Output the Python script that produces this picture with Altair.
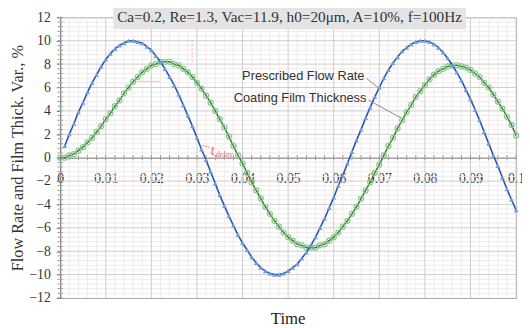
import altair as alt
import pandas as pd

SERIF = "Liberation Serif"
SANS = "Liberation Sans"

# ---- data ----
t_flow = [k / 1000 for k in range(1, 101)]
flow_rate = [1.0, 2.0, 2.9, 3.9, 4.7, 5.6, 6.4, 7.1, 7.8, 8.4,
             8.9, 9.3, 9.6, 9.8, 10.0, 10.0, 9.9, 9.8, 9.5, 9.2,
             8.7, 8.2, 7.6, 6.9, 6.2, 5.4, 4.5, 3.6, 2.7, 1.7,
             0.7, -0.2, -1.2, -2.2, -3.2, -4.1, -5.0, -5.8, -6.6, -7.3,
             -7.9, -8.5, -9.0, -9.4, -9.7, -9.9, -10.0, -10.0, -9.9, -9.7,
             -9.4, -9.1, -8.6, -8.1, -7.5, -6.8, -6.0, -5.2, -4.3, -3.4,
             -2.4, -1.5, -0.5, 0.5, 1.5, 2.4, 3.4, 4.3, 5.2, 6.0,
             6.8, 7.5, 8.1, 8.6, 9.1, 9.4, 9.7, 9.9, 10.0, 10.0,
             9.9, 9.7, 9.4, 9.0, 8.5, 7.9, 7.3, 6.6, 5.8, 5.0,
             4.1, 3.2, 2.2, 1.2, 0.2, -0.7, -1.7, -2.7, -3.6, -4.5]

t_film = [k / 1000 for k in range(0, 101)]
film_thickness = [0.0, 0.0, 0.2, 0.3, 0.6, 0.9, 1.3, 1.7, 2.2, 2.7,
                  3.3, 3.8, 4.4, 4.9, 5.5, 6.0, 6.5, 6.9, 7.3, 7.6,
                  7.9, 8.0, 8.2, 8.2, 8.2, 8.0, 7.9, 7.6, 7.3, 6.9,
                  6.4, 5.9, 5.3, 4.7, 4.0, 3.3, 2.6, 1.8, 1.0, 0.2,
                  -0.5, -1.3, -2.1, -2.8, -3.5, -4.2, -4.8, -5.4, -5.9, -6.4,
                  -6.8, -7.1, -7.4, -7.5, -7.7, -7.7, -7.7, -7.5, -7.4, -7.1,
                  -6.8, -6.4, -5.9, -5.4, -4.8, -4.2, -3.5, -2.8, -2.1, -1.3,
                  -0.6, 0.2, 1.0, 1.7, 2.5, 3.2, 3.9, 4.5, 5.2, 5.7,
                  6.2, 6.7, 7.1, 7.4, 7.6, 7.8, 7.9, 7.9, 7.8, 7.7,
                  7.5, 7.2, 6.9, 6.4, 6.0, 5.4, 4.8, 4.2, 3.5, 2.8,
                  1.9]

x_ticks = [0, 0.01, 0.02, 0.03, 0.04, 0.05, 0.06, 0.07, 0.08, 0.09, 0.1]
y_ticks = [-12, -10, -8, -6, -4, -2, 0, 2, 4, 6, 8, 10, 12]

title_text = "Ca=0.2, Re=1.3, Vac=11.9, h0=20\u03bcm, A=10%, f=100Hz"
y_title = "Flow Rate and Film Thick. Var., %"
x_title = "Time"
label_flow = "Prescribed Flow Rate"
label_film = "Coating Film Thickness"

# grid helpers
minor_x = [i / 500 for i in range(51) if i % 5 != 0]
minor_y = [round(-12 + 0.4 * i, 2) for i in range(61) if i % 5 != 0]
zero_ticks = [i / 500 for i in range(1, 51)]
left_ticks = [round(-12 + 0.4 * i, 2) for i in range(61)]

flow_df = pd.DataFrame({"t": t_flow, "v": flow_rate})
film_df = pd.DataFrame({"t": t_film, "v": film_thickness})

xs = alt.Scale(domain=[0, 0.1], nice=False, zero=False)
ys = alt.Scale(domain=[-12, 12], nice=False, zero=False)

x_axis = alt.Axis(values=x_ticks, format="~g", offset=-142.5, title=None, grid=False,
                  domainColor="#666", domainWidth=1, ticks=False,
                  labelFont=SERIF, labelFontSize=14, labelColor="#333",
                  labelPadding=14, labelFlush=False, labelOverlap=False)
y_axis = alt.Axis(values=y_ticks, title=y_title, grid=False,
                  domainColor="#777", tickColor="#777", tickSize=4,
                  labelFont=SERIF, labelFontSize=14, labelColor="#333", labelPadding=6,
                  titleFont=SERIF, titleFontSize=16.5, titleFontWeight="normal",
                  titleColor="#333", titlePadding=3)

X = lambda f: alt.X(f, scale=xs, axis=x_axis)
Y = lambda f: alt.Y(f, scale=ys, axis=y_axis)

minor_vx = alt.Chart(pd.DataFrame({"t": minor_x})).mark_rule(color="#f1eaea", strokeWidth=1).encode(x=X("t:Q"))
minor_hy = alt.Chart(pd.DataFrame({"v": minor_y})).mark_rule(color="#f1eaea", strokeWidth=1).encode(y=Y("v:Q"))
major_vx = alt.Chart(pd.DataFrame({"t": x_ticks[1:]})).mark_rule(color="#cccccc", strokeWidth=1).encode(x=X("t:Q"))
major_hy = alt.Chart(pd.DataFrame({"v": y_ticks[1:-1]})).mark_rule(color="#cccccc", strokeWidth=1).encode(y=Y("v:Q"))

zt = pd.DataFrame({"t": zero_ticks, "lo": [-0.22] * len(zero_ticks), "hi": [0.22] * len(zero_ticks)})
zero_tick_layer = alt.Chart(zt).mark_rule(color="#999", strokeWidth=1).encode(
    x=X("t:Q"), y=Y("lo:Q"), y2="hi:Q")
lt = pd.DataFrame({"v": left_ticks, "lo": [-0.0006] * len(left_ticks), "hi": [0.0006] * len(left_ticks)})
left_tick_layer = alt.Chart(lt).mark_rule(color="#999", strokeWidth=1).encode(
    y=Y("v:Q"), x=X("lo:Q"), x2="hi:Q")

flow_line = alt.Chart(flow_df).mark_line(color="#2a55a2", strokeWidth=1.6).encode(x=X("t:Q"), y=Y("v:Q"))
flow_pts = alt.Chart(flow_df).mark_point(shape="triangle-up", filled=True, size=24,
                                         color="#6c9de0", opacity=1).encode(x=X("t:Q"), y=Y("v:Q"))
film_line = alt.Chart(film_df).mark_line(color="#367836", strokeWidth=1.5).encode(x=X("t:Q"), y=Y("v:Q"))
film_pts = alt.Chart(film_df).mark_point(shape="circle", filled=False, size=26, strokeWidth=1.2,
                                         color="#86c886", opacity=1).encode(x=X("t:Q"), y=Y("v:Q"))

one = alt.Data(values=[{}])
title_box = alt.Chart(one).mark_rect(fill="#e4e4e4").encode(
    x=alt.value(54), x2=alt.value(412), y=alt.value(-12), y2=alt.value(12))
title_txt = alt.Chart(one).mark_text(text=title_text, font=SERIF, fontSize=15.5, color="#333",
                                     align="center", baseline="middle").encode(
    x=alt.value(233), y=alt.value(0))

lab1 = alt.Chart(one).mark_text(text=label_flow, font=SANS, fontSize=13, color="#333",
                                align="right", baseline="middle").encode(x=alt.value(309), y=alt.value(60))
lab2 = alt.Chart(one).mark_text(text=label_film, font=SANS, fontSize=13, color="#333",
                                align="right", baseline="middle").encode(x=alt.value(311), y=alt.value(82))
lead1 = alt.Chart(one).mark_rule(color="#8a8a8a", strokeWidth=1).encode(
    x=alt.value(311), y=alt.value(62), x2=alt.value(324), y2=alt.value(72))
lead2 = alt.Chart(one).mark_rule(color="#8a8a8a", strokeWidth=1).encode(
    x=alt.value(313), y=alt.value(84), x2=alt.value(346), y2=alt.value(102))

red_t = alt.Chart(one).mark_text(text="t", font=SERIF, fontSize=14, fontStyle="italic", color="#e06a6a",
                                 align="left", baseline="middle").encode(x=alt.value(153), y=alt.value(136))
red_sub = alt.Chart(one).mark_text(text="delay", font=SERIF, fontSize=8, fontStyle="italic", color="#e06a6a",
                                   align="left", baseline="middle").encode(x=alt.value(158), y=alt.value(140))
red_l1 = alt.Chart(one).mark_rule(color="#eea0a0", strokeWidth=1).encode(
    x=alt.value(144), y=alt.value(130), x2=alt.value(152), y2=alt.value(132))
red_v = alt.Chart(one).mark_rule(color="#f0b0b0", strokeWidth=1, strokeDash=[2, 2]).encode(
    x=alt.value(134), y=alt.value(23), x2=alt.value(134), y2=alt.value(45))
red_h = alt.Chart(one).mark_rule(color="#f0c0c0", strokeWidth=1).encode(
    x=alt.value(78), y=alt.value(65), x2=alt.value(102), y2=alt.value(65))

chart = alt.layer(
    minor_vx, minor_hy, major_vx, major_hy, zero_tick_layer, left_tick_layer,
    red_v, red_h, red_l1,
    film_line, film_pts, flow_line, flow_pts,
    lead1, lead2, lab1, lab2, red_t, red_sub,
    title_box, title_txt,
).properties(
    width=463, height=285,
    title=alt.TitleParams(x_title, orient="bottom", anchor="middle", font=SERIF, fontSize=17,
                          fontWeight="normal", color="#222", offset=6),
    autosize=alt.AutoSizeParams(type="none"),
    padding={"left": 53, "top": 7, "right": 6, "bottom": 28},
    background="white",
).configure_view(stroke="#a8a8a8", strokeWidth=1)

chart.save("out.html", embed_options={"renderer": "svg", "actions": False})
